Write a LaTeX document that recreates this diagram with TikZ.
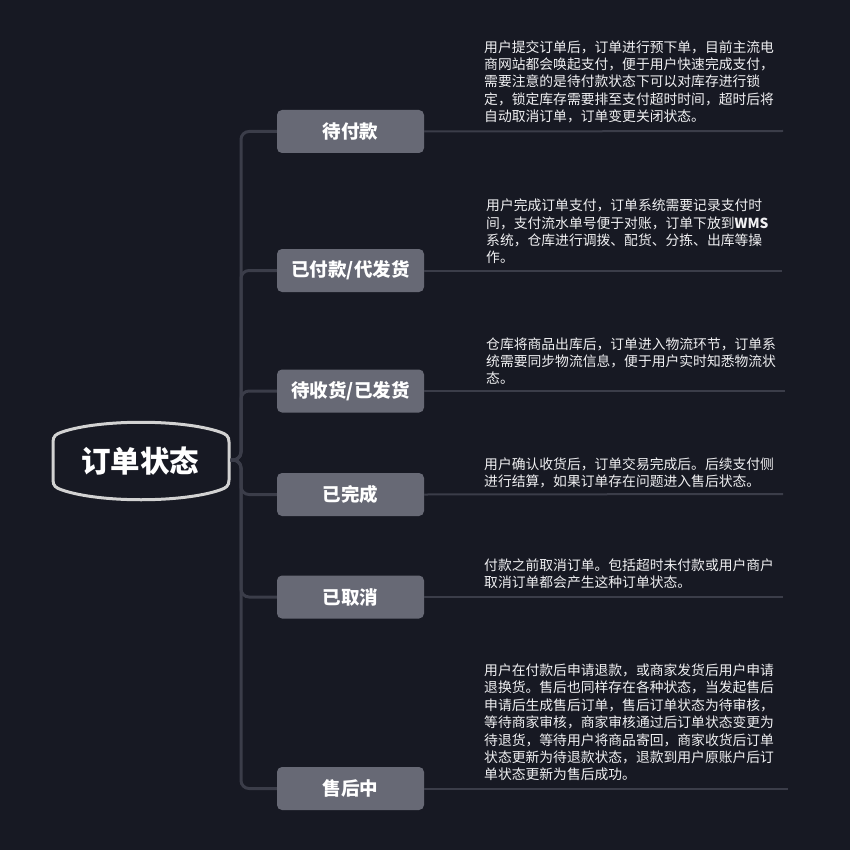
\documentclass[tikz,border=0pt]{standalone}
\usepackage{fontspec}
\setmainfont{Noto Sans CJK SC}
\definecolor{bg}{HTML}{171923}
\definecolor{linec}{HTML}{3B3D49}
\definecolor{boxc}{HTML}{676975}
\definecolor{rootc}{HTML}{D2D2D2}
\definecolor{txt}{HTML}{F0F0F2}
\tikzset{
  x=1pt,y=-1pt,
  branchbox/.style={fill=boxc,rounded corners=5pt,minimum width=147pt,minimum height=43pt,inner sep=0pt,text=white,font=\fontsize{18.5}{21}\selectfont\bfseries},
  desc/.style={anchor=base west,inner sep=0pt,align=left,text=txt,font=\fontsize{13.8}{17.4}\selectfont},
  trunk/.style={draw=linec,line width=3pt,rounded corners=8pt},
  tail/.style={draw=linec,line width=2pt}
}
\begin{document}
\begin{tikzpicture}
\fill[bg] (0,0) rectangle (850,850);
\useasboundingbox (0,0) rectangle (850,850);
% root
\draw[rootc,line width=3pt,fill=bg]
 (53,442) .. controls (53,436) and (56,434) .. (62,432)
 .. controls (100,419) and (182,419) .. (220,432)
 .. controls (226,434) and (229,436) .. (229,442)
 -- (229,480)
 .. controls (229,486) and (226,488) .. (220,490)
 .. controls (182,503) and (100,503) .. (62,490)
 .. controls (56,488) and (53,486) .. (53,480) -- cycle;
\node[inner sep=0pt,text=white,font=\fontsize{29.5}{33}\selectfont\bfseries] (root) at (140,461) {订单状态};
\coordinate (rootE) at (230.5,460);
% branches
\node[branchbox] (b1) at (350.5,131.5) {待付款};
\node[branchbox] (b2) at (350.5,270.5) {已付款/代发货};
\node[branchbox] (b3) at (350.5,391) {待收货/已发货};
\node[branchbox] (b4) at (350.5,494.5) {已完成};
\node[branchbox] (b5) at (350.5,597) {已取消};
\node[branchbox] (b6) at (350.5,788.5) {售后中};
\foreach \b in {b1,b2,b3,b4,b5,b6}{
  \draw[trunk] (rootE) -- (241,460) -- (241,0 |- \b.west) -- (\b.west);
}
% tails
\coordinate (t1) at (783,131);
\coordinate (t2) at (782,270.5);
\coordinate (t3) at (785,391);
\coordinate (t4) at (783,494);
\coordinate (t5) at (783,597);
\coordinate (t6) at (788,788.5);
\draw[tail] (b1.east) -- (t1);
\draw[tail] (b2.east) -- (t2);
\draw[tail] (b3.east) -- (t3);
\draw[tail] (b4.east) -- (t4);
\draw[tail] (b5.east) -- (t5);
\draw[tail] (b6.east) -- (t6);
% descriptions (anchored at the baseline of the last line)
\node[desc] (d1) at (484,121.8) {用户提交订单后，订单进行预下单，目前主流电\\商网站都会唤起支付，便于用户快速完成支付，\\需要注意的是待付款状态下可以对库存进行锁\\定，锁定库存需要排至支付超时时间，超时后将\\自动取消订单，订单变更关闭状态。};
\node[desc] (d2) at (486,262.8) {用户完成订单支付，订单系统需要记录支付时\\间，支付流水单号便于对账，订单下放到{\bfseries WMS}\\系统，仓库进行调拨、配货、分拣、出库等操\\作。};
\node[desc] (d3) at (486,383.8) {仓库将商品出库后，订单进入物流环节，订单系\\统需要同步物流信息，便于用户实时知悉物流状\\态。};
\node[desc] (d4) at (484,486.8) {用户确认收货后，订单交易完成后。后续支付侧\\进行结算，如果订单存在问题进入售后状态。};
\node[desc] (d5) at (484,587.8) {付款之前取消订单。包括超时未付款或用户商户\\取消订单都会产生这种订单状态。};
\node[desc] (d6) at (484,779.8) {用户在付款后申请退款，或商家发货后用户申请\\退换货。售后也同样存在各种状态，当发起售后\\申请后生成售后订单，售后订单状态为待审核，\\等待商家审核，商家审核通过后订单状态变更为\\待退货，等待用户将商品寄回，商家收货后订单\\状态更新为待退款状态，退款到用户原账户后订\\单状态更新为售后成功。};
\end{tikzpicture}
\end{document}
